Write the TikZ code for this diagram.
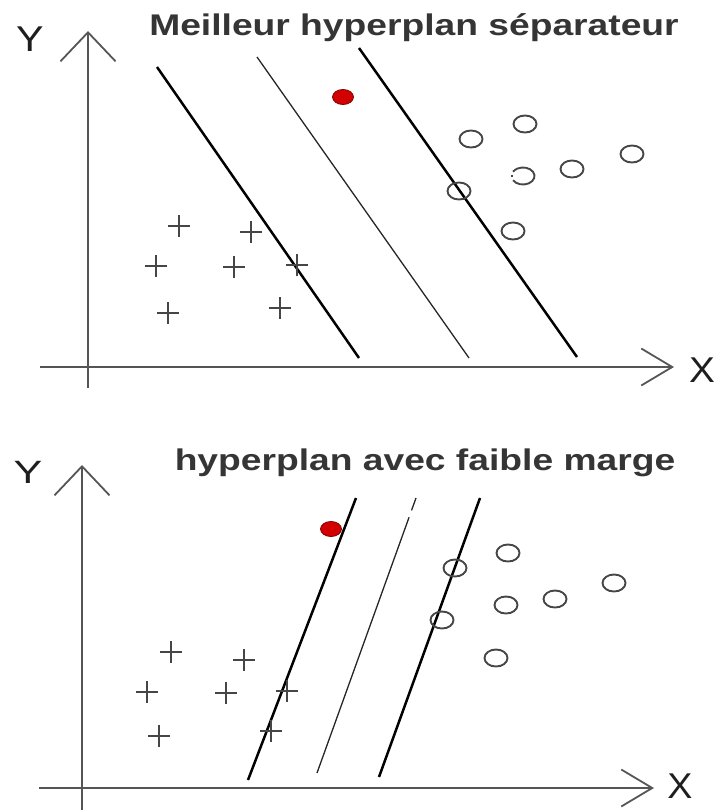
\documentclass[tikz,border=0pt]{standalone}
\usepackage{fontspec}
\setmainfont{Liberation Sans}
\usetikzlibrary{arrows.meta,calc}
\definecolor{axgrey}{RGB}{85,85,85}
\definecolor{ptgrey}{RGB}{70,70,70}
\definecolor{txtdark}{RGB}{30,30,30}
\definecolor{dotred}{RGB}{210,0,0}
\tikzset{
  axisline/.style={draw=axgrey, line width=1.8pt},
  xtip/.style={-{Straight Barb[length=31bp, width=37bp]}},
  ytip/.style={-{Straight Barb[length=29bp, width=55bp]}},
  sep/.style={draw=black, line width=2.5pt},
  mid/.style={draw=black!85, line width=1.3pt},
  ptmark/.style={draw=ptgrey, line width=1.9pt},
  ttl/.style={font=\fontsize{30}{34}\selectfont\bfseries, text=txtdark!90!white,
              inner sep=0pt, anchor=base},
  axlbl/.style={font=\fontsize{36}{40}\selectfont, text=txtdark, inner sep=0pt},
  reddot/.style={fill=dotred, draw=dotred!60!black, line width=0.8pt},
}

\begin{document}
\begin{tikzpicture}[x=1bp, y=-1bp]
\useasboundingbox (0,0) rectangle (721,810);

% ---- top panel: best separating hyperplane
\node[ttl] (ttlA) at (414,36) {\scalebox{1.245}[1]{Meilleur hyperplan séparateur}};
\node[axlbl] (yA) at (30,39) {\scalebox{1.15}[1]{Y}};
\node[axlbl] (xA) at (702,370) {\scalebox{1.08}[1]{X}};
\draw[axisline, ytip] (88,388) -- (88,31);
\draw[axisline, xtip] (40,367) -- (674,367);

% margins and hyperplane
\draw[sep] (157,67) -- (359,358);
\draw[mid] (257,57) -- (469,358);
\draw[sep] (359,48) -- (577,357);

% classes: {x}/{y}
\foreach \x/\y in {179/226, 251/232, 156/266, 234/267, 297/265, 168/313, 280/308}
  \draw[ptmark] (\x-11,\y) -- (\x+11,\y) (\x,\y-11) -- (\x,\y+11);
\foreach \x/\y in {471/139, 525/124, 632/154, 572/169, 459/191, 513/231}
  \draw[ptmark] (\x,\y) ellipse [x radius=11.5bp, y radius=8.5bp];
\draw[ptmark] (523,176) ++(210:11.5bp and 8.5bp)
  arc[start angle=210, end angle=510, x radius=11.5bp, y radius=8.5bp];
\draw[ptmark] (523,176) ++(173:11.5bp and 8.5bp)
  arc[start angle=173, end angle=187, x radius=11.5bp, y radius=8.5bp];
\fill[reddot] (343,97) ellipse [x radius=10.5bp, y radius=7.5bp];

% ---- bottom panel: hyperplane with a small margin
\node[ttl] (ttlB) at (425,470) {\scalebox{1.245}[1]{hyperplan avec faible marge}};
\node[axlbl] (yB) at (28,472) {\scalebox{1.2}[0.9]{Y}};
\node[axlbl] (xB) at (680,786) {\scalebox{1.05}[1]{X}};
\draw[axisline, ytip] (82,810) -- (82,465);
\draw[axisline, xtip] (39,788) -- (654,788);

% margins and hyperplane (the middle one has a small break near the top)
\draw[sep] (356,498) -- (248,780);
\coordinate (mtop) at (416,498);
\coordinate (mbot) at (317,773);
\draw[mid] (mtop) -- ($(mtop)!0.045!(mbot)$) ($(mtop)!0.07!(mbot)$) -- (mbot);
\draw[sep] (480,498) -- (379,777);

% classes: {x}/{y}
\foreach \x/\y in {171/652, 244/660, 147/692, 226/693, 287/691, 159/736, 271/731}
  \draw[ptmark] (\x-11,\y) -- (\x+11,\y) (\x,\y-11) -- (\x,\y+11);
\foreach \x/\y in {508/553, 455/568, 614/583, 555/599, 506/605, 442/620, 496/658}
  \draw[ptmark] (\x,\y) ellipse [x radius=11.5bp, y radius=8.5bp];
\fill[reddot] (331,529) ellipse [x radius=10.5bp, y radius=7.5bp];
\end{tikzpicture}
\end{document}
